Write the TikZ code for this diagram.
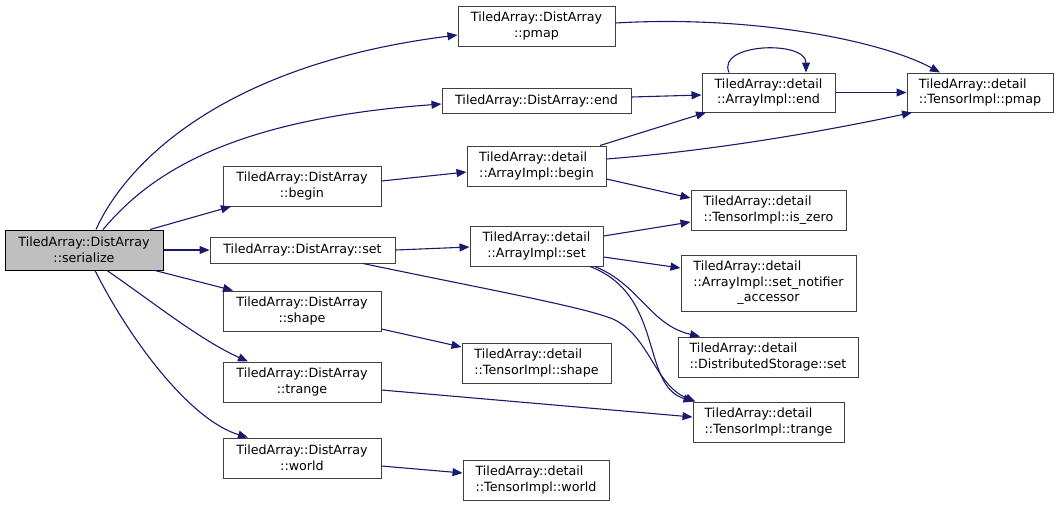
\documentclass[tikz,border=0pt]{standalone}
\usepackage{fontspec}
\setmainfont{DejaVu Sans}
\usepackage{calc}
\usepackage{tikz}
\usetikzlibrary{arrows.meta}

\definecolor{edgeblue}{RGB}{25,25,112}
\definecolor{boxgray}{RGB}{64,64,64}
\definecolor{curfill}{RGB}{191,191,191}

\tikzset{
	fn/.style={draw=boxgray, line width=1pt, rectangle, inner sep=2pt, align=center,
		font=\fontsize{12.7}{15.5}\selectfont},
	fnl/.style={fn, align=left},
	call/.style={->, draw=edgeblue, line width=1.1pt},
	>={Triangle[length=10pt,width=8pt]}
}

\begin{document}
\begin{tikzpicture}[x=1pt, y=-1pt]

		\useasboundingbox (0,0) rectangle (1059,507);

		%current function%
		\node[fn, fill=curfill, draw=black, minimum width=158, minimum height=40] (serialize) at (84,250) {TiledArray::DistArray\\::serialize};

		% DistArray members %
		\node[fn, minimum width=157, minimum height=40] (dpmap) at (536.5,26) {TiledArray::DistArray\\::pmap};
		\node[fn, minimum width=189, minimum height=25] (dend) at (536.5,100.5) {TiledArray::DistArray::end};
		\node[fn, minimum width=158, minimum height=40] (dbegin) at (302,186) {TiledArray::DistArray\\::begin};
		\node[fn, minimum width=185, minimum height=26] (dset) at (302.5,250) {TiledArray::DistArray::set};
		\node[fn, minimum width=158, minimum height=40] (dshape) at (302,311) {TiledArray::DistArray\\::shape};
		\node[fn, minimum width=158, minimum height=40] (dtrange) at (302,382) {TiledArray::DistArray\\::trange};
		\node[fn, minimum width=158, minimum height=40] (dworld) at (302,458) {TiledArray::DistArray\\::world};

		% detail members %
		\node[fn, minimum width=133, minimum height=39] (aend) at (768.5,92.5) {TiledArray::detail\\::ArrayImpl::end};
		\node[fnl, minimum width=146, minimum height=39] (tpmap) at (980,92.5) {TiledArray::detail\\::TensorImpl::pmap};
		\node[fnl, minimum width=139, minimum height=40] (abegin) at (536.5,166) {TiledArray::detail\\::ArrayImpl::begin};
		\node[fnl, minimum width=155, minimum height=40] (iszero) at (768.5,210) {TiledArray::detail\\::TensorImpl::is\_zero};
		\node[fn, minimum width=133, minimum height=40] (aset) at (536.5,246) {TiledArray::detail\\::ArrayImpl::set};
		\node[fnl, minimum width=175, minimum height=56] (setnot) at (768.5,283) {TiledArray::detail\\::ArrayImpl::set\_notifier\\\makebox[\widthof{::ArrayImpl::set\_notifier}]{\_accessor}};
		\node[fnl, minimum width=180, minimum height=40] (dstore) at (768,357) {TiledArray::detail\\::DistributedStorage::set};
		\node[fnl, minimum width=149, minimum height=40] (tshape) at (536.5,363) {TiledArray::detail\\::TensorImpl::shape};
		\node[fnl, minimum width=151, minimum height=40] (ttrange) at (768.5,422) {TiledArray::detail\\::TensorImpl::trange};
		\node[fnl, minimum width=146, minimum height=40] (tworld) at (536,480) {TiledArray::detail\\::TensorImpl::world};

		% calls from serialize %
		\draw[call] ([xshift=12]serialize.north) .. controls (125,165) and (220,65) .. ([yshift=-9]dpmap.west);
		\draw[call] ([xshift=19]serialize.north) .. controls (145,180) and (220,120) .. ([yshift=-3.5]dend.west);
		\draw[call] ([xshift=66]serialize.north) -- ([xshift=-71]dbegin.south);
		\draw[call] (serialize.east) -- (dset.west);
		\draw[call] ([xshift=71]serialize.south) -- ([xshift=-69]dshape.north);
		\draw[call] ([xshift=23]serialize.south) .. controls (150,300) and (200,340) .. ([xshift=-54]dtrange.north);
		\draw[call] ([xshift=11]serialize.south) .. controls (130,340) and (190,420) .. ([xshift=-54]dworld.north);

		% second level %
		\draw[call] ([yshift=3]dpmap.east) .. controls (750,15) and (880,40) .. ([xshift=-40]tpmap.north);
		\draw[call] ([yshift=3.5]dend.east) -- ([yshift=-2.5]aend.west);
		\draw[call] ([xshift=-39.5]aend.north) .. controls (716,43) and (806,40) .. ([xshift=37.5]aend.north);
		\draw[call] (aend.east) -- (tpmap.west);
		\draw[call] ([yshift=5]dbegin.east) -- ([yshift=-6]abegin.west);
		\draw[call] ([xshift=63.5]abegin.north) -- ([xshift=-62.5]aend.south);
		\draw[call] ([yshift=7]abegin.east) .. controls (720,150) and (830,130) .. ([xshift=-68]tpmap.south);
		\draw[call] ([yshift=-13]abegin.east) -- ([yshift=12]iszero.west);
		\draw[call] (dset.east) -- ([yshift=-1]aset.west);
		\draw[call] ([xshift=60.5]dset.south) .. controls (480,288) and (590,308) .. (615,320) .. controls (650,338) and (655,385) .. ([xshift=-73]ttrange.north);
		\draw[call] ([yshift=10]aset.east) -- ([yshift=-12]iszero.west);
		\draw[call] ([yshift=-11]aset.east) -- ([yshift=15]setnot.west);
		\draw[call] ([xshift=58.5]aset.south) .. controls (640,285) and (650,325) .. ([xshift=-68]dstore.north);
		\draw[call] ([xshift=53.5]aset.south) .. controls (665,295) and (640,385) .. ([xshift=-75]ttrange.north);
		\draw[call] ([yshift=-18]dshape.east) -- ([yshift=16]tshape.west);
		\draw[call] ([yshift=-8]dtrange.east) -- ([yshift=5]ttrange.west);
		\draw[call] ([yshift=-8]dworld.east) -- ([yshift=7]tworld.west);

	\end{tikzpicture}
\end{document}
